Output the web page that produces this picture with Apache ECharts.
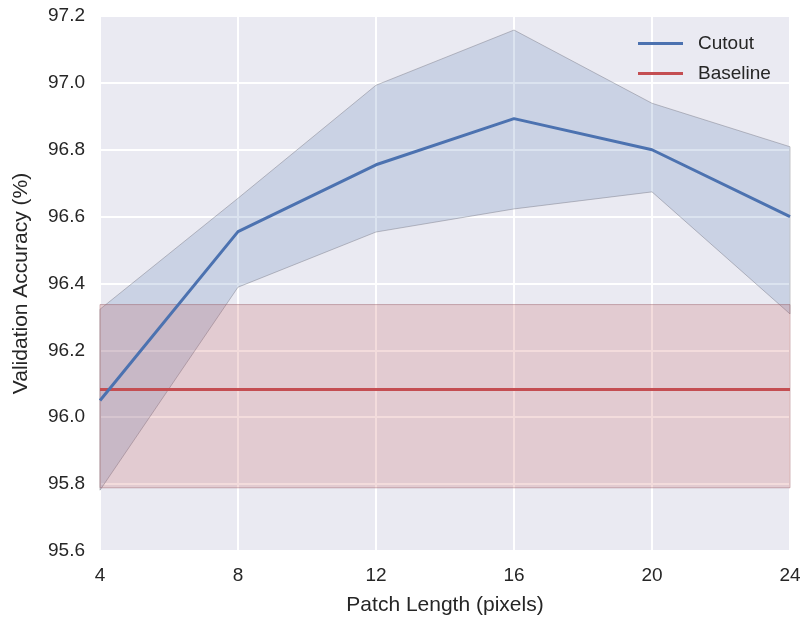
<!DOCTYPE html>
<html>
<head>
<meta charset="utf-8">
<script src="https://cdn.jsdelivr.net/npm/echarts@6/dist/echarts.min.js"></script>
<style>html,body{margin:0;padding:0;background:#fff}#chart{width:800px;height:619px}</style>
</head>
<body>
<div id="chart"></div>
<script>
const patchLengths = [4, 8, 12, 16, 20, 24];
const cutoutMean  = [96.05, 96.555, 96.755, 96.893, 96.80, 96.60];
const cutoutUpper = [96.323, 96.655, 96.993, 97.158, 96.939, 96.809];
const cutoutLower = [95.782, 96.389, 96.554, 96.623, 96.674, 96.309];
const baselineX = [4, 24];
const baselineMean = [96.083, 96.083];
const baselineUpper = [96.337, 96.337];
const baselineLower = [95.789, 95.789];
const yTicks = [95.6, 95.8, 96.0, 96.2, 96.4, 96.6, 96.8, 97.0, 97.2];

const FONT = 'Liberation Sans, Arial, sans-serif';
const TXT = '#262626';

function bandRenderer(xs, lo, hi, fill, stroke) {
  return function (params, api) {
    if (params.dataIndex !== 0) return null;
    const pts = [];
    for (let i = 0; i < xs.length; i++) pts.push(api.coord([xs[i], hi[i]]));
    for (let i = xs.length - 1; i >= 0; i--) pts.push(api.coord([xs[i], lo[i]]));
    return {
      type: 'polygon',
      shape: { points: pts },
      style: { fill: fill, stroke: stroke, lineWidth: 1 }
    };
  };
}

const chart = echarts.init(document.getElementById('chart'), null, { renderer: 'canvas' });
chart.setOption({
  animation: false,
  backgroundColor: '#ffffff',
  grid: { left: 100, right: 10, top: 16, bottom: 68, containLabel: false, outerBoundsMode: 'none',
          show: true, backgroundColor: '#EAEAF2', borderWidth: 0 },
  xAxis: {
    type: 'value', min: 4, max: 24, interval: 4,
    name: 'Patch Length (pixels)', nameLocation: 'middle', nameGap: 44,
    nameTextStyle: { fontFamily: FONT, fontSize: 21, color: TXT },
    axisLine: { show: false }, axisTick: { show: false },
    axisLabel: { fontFamily: FONT, fontSize: 19, color: TXT, margin: 15 },
    splitLine: { show: true, lineStyle: { color: '#ffffff', width: 2 } }
  },
  yAxis: {
    type: 'value', min: 95.6, max: 97.2, interval: 0.2,
    name: 'Validation Accuracy (%)', nameLocation: 'middle', nameGap: 68,
    nameTextStyle: { fontFamily: FONT, fontSize: 21, color: TXT },
    axisLine: { show: false }, axisTick: { show: false },
    axisLabel: { fontFamily: FONT, fontSize: 19, color: TXT, margin: 15,
      formatter: v => { const t = yTicks.find(k => Math.abs(k - v) < 1e-6); return (t !== undefined ? t : v).toFixed(1); } },
    splitLine: { show: true, lineStyle: { color: '#ffffff', width: 2 } }
  },
  legend: {
    orient: 'vertical', left: 633, top: 29, itemGap: 11,
    itemWidth: 45, itemHeight: 3,
    textStyle: { fontFamily: FONT, fontSize: 19, color: TXT, padding: [0, 0, 0, 10] },
    data: [{ name: 'Cutout', icon: 'rect' }, { name: 'Baseline', icon: 'rect' }]
  },
  series: [
    {
      type: 'custom', name: 'cutoutBand', silent: true, z: 1,
      data: patchLengths.map((x, i) => [x, cutoutLower[i], cutoutUpper[i]]),
      encode: { x: 0, y: [1, 2] },
      renderItem: bandRenderer(patchLengths, cutoutLower, cutoutUpper, 'rgba(76,114,176,0.2)', 'rgba(120,120,130,0.45)')
    },
    {
      type: 'custom', name: 'baselineBand', silent: true, z: 2,
      data: baselineX.map((x, i) => [x, baselineLower[i], baselineUpper[i]]),
      encode: { x: 0, y: [1, 2] },
      renderItem: bandRenderer(baselineX, baselineLower, baselineUpper, 'rgba(196,78,82,0.2)', 'rgba(150,90,100,0.45)')
    },
    {
      type: 'line', name: 'Cutout', z: 4, symbol: 'none',
      data: patchLengths.map((x, i) => [x, cutoutMean[i]]),
      lineStyle: { color: '#4C72B0', width: 3 }, itemStyle: { color: '#4C72B0' }
    },
    {
      type: 'line', name: 'Baseline', z: 3, symbol: 'none',
      data: baselineX.map((x, i) => [x, baselineMean[i]]),
      lineStyle: { color: '#C44E52', width: 3 }, itemStyle: { color: '#C44E52' }
    }
  ]
});
</script>
</body>
</html>
